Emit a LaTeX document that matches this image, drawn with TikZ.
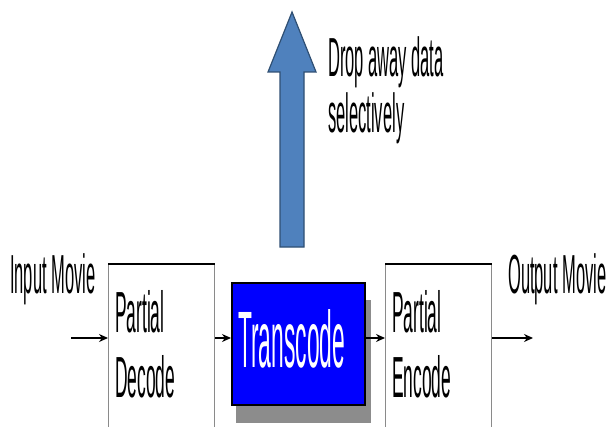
\documentclass[tikz,border=0pt]{standalone}
\usepackage{fontspec}
\newfontfamily\narrowsans[FakeStretch=0.30]{Liberation Sans}
\newfontfamily\titlesans[FakeStretch=0.285]{Liberation Sans}
\usetikzlibrary{arrows.meta}

\definecolor{transblue}{HTML}{0000FF}
\definecolor{shadowgray}{HTML}{8C8C8C}
\definecolor{dropfill}{HTML}{4F81BD}
\definecolor{dropedge}{HTML}{2F4F73}
\definecolor{sidegray}{HTML}{8A8A8A}

\tikzset{
  x=1pt, y=1pt,
  procbox/.style={draw=sidegray, line width=1pt, fill=white, inner sep=0pt,
    minimum width=106pt, minimum height=190pt, anchor=north west},
  transbox/.style={draw=black, line width=1.6pt, fill=transblue, inner sep=0pt,
    minimum width=133pt, minimum height=122pt, anchor=north west},
  % multi-line nodes: base anchor sits on the last line
  labeltext/.style={inner sep=0pt, anchor=base west, align=left,
    font=\narrowsans\fontsize{55}{55}\selectfont},
  boxtext/.style={inner sep=0pt, anchor=base west, align=left,
    font=\narrowsans\fontsize{58}{65}\selectfont},
  flow/.style={-{Stealth[length=9pt,width=8pt]}, line width=1.4pt, black},
}

\begin{document}
\begin{tikzpicture}
\useasboundingbox (0,0) rectangle (609,426);
\clip (0,0) rectangle (609,426);

% upward arrow for discarded data
\draw[fill=dropfill, draw=dropedge, line width=1.2pt, line join=miter]
  (292,414) -- (316,354) -- (304,354) -- (304,179) -- (280,179)
  -- (280,354) -- (268,354) -- cycle;
\node[labeltext] (droptext) at (328,294) {Drop away data\\selectively};

% processing stages
\node[procbox] (dec) at (108,162) {};
\draw[black, line width=1.8pt] (dec.north west) -- (dec.north east);
\node[boxtext] (dectext) at (115,29) {Partial\\Decode};

\fill[shadowgray] (236,126) rectangle (371,3);
\node[transbox] (trans) at (231,144) {};
\node[inner sep=0pt, anchor=base west, text=white,
  font=\titlesans\fontsize{80}{80}\selectfont] (transtext) at (238,59) {Transcode};

\node[procbox] (enc) at (385,162) {};
\draw[black, line width=1.8pt] (enc.north west) -- (enc.north east);
\node[boxtext] (enctext) at (392,29) {Partial\\Encode};

% movie labels
\node[labeltext] (inlabel) at (10,133) {Input Movie};
\node[labeltext] (outlabel) at (508,133) {Output Movie};

% data flow
\coordinate (flowline) at (0,88);
\coordinate (instart) at (71,88);
\coordinate (outend) at (533,88);
\draw[flow] (instart) -- (dec.west |- flowline);
\draw[flow] (dec.east |- flowline) -- (trans.west |- flowline);
\draw[flow] (trans.east |- flowline) -- (enc.west |- flowline);
\draw[flow] (enc.east |- flowline) -- (outend);
\end{tikzpicture}
\end{document}
